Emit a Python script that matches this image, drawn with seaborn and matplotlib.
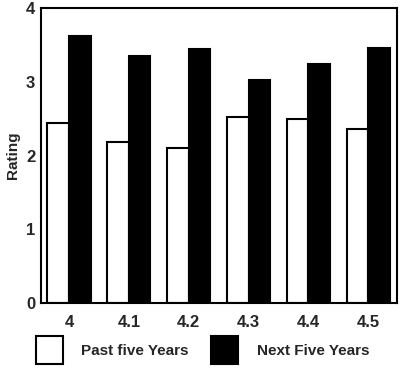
import pandas as pd
import matplotlib
matplotlib.use("Agg")
import matplotlib.pyplot as plt
import seaborn as sns

# ====== Data ======
categories = ["4", "4.1", "4.2", "4.3", "4.4", "4.5"]
past_five = [2.44, 2.18, 2.10, 2.52, 2.49, 2.36]
next_five = [3.62, 3.35, 3.44, 3.02, 3.24, 3.46]
series_names = ["Past five Years", "Next Five Years"]
y_ticks = [0, 1, 2, 3, 4]

df = pd.DataFrame({
    "cat": categories * 2,
    "rating": past_five + next_five,
    "series": [series_names[0]] * len(categories) + [series_names[1]] * len(categories),
})

sns.set_style("white")
plt.rcParams["font.family"] = ["Liberation Sans", "DejaVu Sans"]
plt.rcParams["font.weight"] = "bold"

fig = plt.figure(figsize=(4.04, 3.69), dpi=100)
ax = fig.add_axes([0.101, 0.179, 0.882, 0.799])

sns.barplot(data=df, x="cat", y="rating", hue="series", order=categories,
            hue_order=series_names, palette=["white", "black"],
            edgecolor="black", linewidth=1.5, width=0.72, gap=0,
            ax=ax, legend=True)

ax.set_xlim(-0.47, 5.48)
ax.set_ylim(0, 4)
ax.set_yticks(y_ticks)
ax.set_xlabel("")
ax.set_ylabel("Rating", fontsize=11, fontweight="bold", labelpad=4)
ax.tick_params(axis="y", direction="in", length=5, width=1, pad=4, labelsize=12)
ax.tick_params(axis="x", length=0, pad=9, labelsize=12)
for lbl in ax.get_xticklabels() + ax.get_yticklabels():
    lbl.set_fontweight("bold")
for sp in ax.spines.values():
    sp.set_linewidth(1.5)
    sp.set_color("black")

# ====== Legend below the axes ======
handles, labels = ax.get_legend_handles_labels()
ax.get_legend().remove()
fig.legend(handles, labels, loc="lower left", bbox_to_anchor=(0.055, -0.025),
           ncol=2, frameon=False, handlelength=1.75,
           handleheight=2.5, columnspacing=1.5, handletextpad=1.2,
           prop={"weight": "bold", "size": 11})

fig.savefig("out.png", dpi=100)
